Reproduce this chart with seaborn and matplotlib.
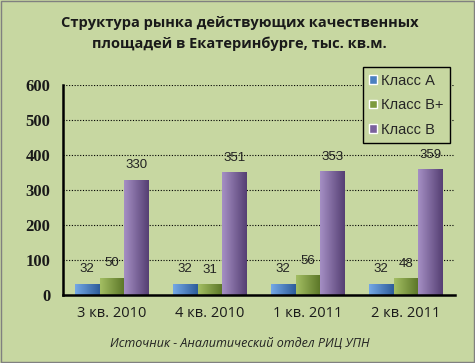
import matplotlib
matplotlib.use("Agg")
import matplotlib.pyplot as plt
import seaborn as sns
import pandas as pd
import numpy as np
from matplotlib.patches import Rectangle
from matplotlib.colors import LinearSegmentedColormap

categories = ["3 кв. 2010", "4 кв. 2010", "1 кв. 2011", "2 кв. 2011"]
series_names = ["Класс А", "Класс В+", "Класс В"]
class_a = [32, 32, 32, 32]
class_bplus = [50, 31, 56, 48]
class_b = [330, 351, 353, 359]
y_ticks = [0, 100, 200, 300, 400, 500, 600]

title = "Структура рынка действующих качественных\nплощадей в Екатеринбурге, тыс. кв.м."
source = "Источник - Аналитический отдел РИЦ УПН"

bg = "#c7d7a1"
colors = ["#4a7fc0", "#7d9b3f", "#7a619c"]
grads = [("#74a8e6", "#2d5c9a"), ("#a3be63", "#5a7526"), ("#a58fc4", "#553f73")]

rows = []
for name, vals in zip(series_names, [class_a, class_bplus, class_b]):
    for c, v in zip(categories, vals):
        rows.append({"cat": c, "series": name, "value": v})
df = pd.DataFrame(rows)

sns.set_style("white")
fig = plt.figure(figsize=(4.75, 3.63), dpi=100)
fig.patch.set_facecolor(bg)
ax = fig.add_axes([63/475, 1-295/363, 392/475, 210/363])
ax.set_facecolor(bg)

sns.barplot(data=df, x="cat", y="value", hue="series", order=categories,
            hue_order=series_names, palette=colors, width=0.76,
            saturation=1, ax=ax, legend=True)

ax.set_xlim(-0.5, 3.5)
ax.set_ylim(0, 600)

grad = np.linspace(0, 1, 64).reshape(1, -1)
for cont, (c0, c1) in zip(ax.containers, grads):
    cmap = LinearSegmentedColormap.from_list("g", [c0, c1])
    for bar in cont:
        bar.set_edgecolor("none")
        x0, y0 = bar.get_x(), bar.get_y()
        w, h = bar.get_width(), bar.get_height()
        im = ax.imshow(grad, cmap=cmap, aspect="auto", extent=(x0, x0 + w, y0, y0 + h),
                       zorder=bar.get_zorder() + 0.1, interpolation="bilinear")
        im.set_clip_path(bar)
    ax.bar_label(cont, padding=6, fontsize=9.5, color="#222222",
                 family="Liberation Sans")

ax.set_xlim(-0.5, 3.5)
ax.set_ylim(0, 600)
ax.set_yticks(y_ticks)
ax.set_yticklabels([str(t) for t in y_ticks], family="Liberation Serif",
                   fontsize=12, fontweight="bold", color="#1a1a1a")
ax.set_xticks(range(len(categories)))
ax.set_xticklabels(categories, family="Open Sans", fontsize=10.5, color="#1a1a1a")
ax.set_xticks([-0.5, 0.5, 1.5, 2.5, 3.5], minor=True)
ax.tick_params(axis="x", which="major", length=0, pad=8)
ax.tick_params(axis="x", which="minor", length=5, width=1.5, direction="out", color="black")
ax.tick_params(axis="y", length=5, width=1.5, direction="out", color="black", pad=4)
ax.set_xlabel("")
ax.set_ylabel("")
for y in y_ticks[1:]:
    ax.axhline(y, color="black", linestyle=(0, (1, 1.5)), linewidth=0.8, zorder=0)
for s in ["top", "right"]:
    ax.spines[s].set_visible(False)
for s in ["left", "bottom"]:
    ax.spines[s].set_color("black")
    ax.spines[s].set_linewidth(1.8)

leg = ax.legend(loc="upper right", bbox_to_anchor=(450/475, 1-67/363),
                bbox_transform=fig.transFigure, frameon=True, fancybox=False,
                edgecolor="black", facecolor=bg, framealpha=1,
                prop={"family": "Liberation Sans", "size": 10.5},
                handlelength=0.5, handleheight=0.5, handletextpad=0.3,
                labelspacing=0.72, borderpad=0.45, borderaxespad=0)
leg.get_frame().set_linewidth(1.0)

fig.text(0.505, 1-33.5/363, title, ha="center", va="center", fontsize=10.5,
         fontweight="bold", family="Open Sans", linespacing=1.65, color="#1a1a1a")
fig.text(0.505, 1-343/363, source, ha="center", va="center", fontsize=9,
         style="italic", family="Open Sans", color="#222222")

fig.patches.append(Rectangle((0.002, 0.003), 0.995, 0.993, transform=fig.transFigure,
                             fill=False, edgecolor="#808080", linewidth=1.0))

fig.savefig("out.png", dpi=100, facecolor=bg)
